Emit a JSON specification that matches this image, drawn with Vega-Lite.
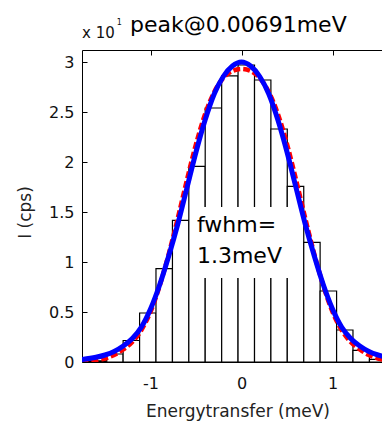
{
  "$schema": "https://vega.github.io/schema/vega-lite/v6.json",
  "autosize": "none",
  "width": 300,
  "height": 312,
  "padding": {"left": 82, "top": 50, "right": 0, "bottom": 62},
  "background": "white",
  "config": {
    "view": {"stroke": null},
    "font": "DejaVu Sans",
    "axis": {
      "grid": false,
      "labelFont": "DejaVu Sans",
      "labelFontSize": 16,
      "labelColor": "#111",
      "titleFont": "DejaVu Sans",
      "titleFontSize": 17,
      "titleFontWeight": "normal",
      "titleColor": "#222",
      "domainColor": "black",
      "domainWidth": 1,
      "tickColor": "black",
      "tickWidth": 1
    }
  },
  "datasets": {
    "bars": [
      {"lo": -1.842, "hi": -1.661, "count": 0.005},
      {"lo": -1.661, "hi": -1.481, "count": 0.012},
      {"lo": -1.481, "hi": -1.301, "count": 0.08},
      {"lo": -1.301, "hi": -1.120, "count": 0.215},
      {"lo": -1.120, "hi": -0.940, "count": 0.49},
      {"lo": -0.940, "hi": -0.759, "count": 0.934},
      {"lo": -0.759, "hi": -0.579, "count": 1.417},
      {"lo": -0.579, "hi": -0.399, "count": 1.957},
      {"lo": -0.399, "hi": -0.218, "count": 2.54},
      {"lo": -0.218, "hi": -0.038, "count": 2.862},
      {"lo": -0.038, "hi": 0.143, "count": 2.97},
      {"lo": 0.143, "hi": 0.323, "count": 2.82},
      {"lo": 0.323, "hi": 0.503, "count": 2.33},
      {"lo": 0.503, "hi": 0.684, "count": 1.757},
      {"lo": 0.684, "hi": 0.864, "count": 1.197},
      {"lo": 0.864, "hi": 1.045, "count": 0.71},
      {"lo": 1.045, "hi": 1.225, "count": 0.32},
      {"lo": 1.225, "hi": 1.406, "count": 0.117},
      {"lo": 1.406, "hi": 1.586, "count": 0.026}
    ],
    "fit": [
      {"e": -1.76, "i": 0.024}, {"e": -1.6, "i": 0.047}, {"e": -1.5, "i": 0.07},
      {"e": -1.4, "i": 0.105}, {"e": -1.3, "i": 0.16}, {"e": -1.2, "i": 0.235},
      {"e": -1.1, "i": 0.35}, {"e": -1.0, "i": 0.53}, {"e": -0.9, "i": 0.77},
      {"e": -0.8, "i": 1.06}, {"e": -0.7, "i": 1.38}, {"e": -0.6, "i": 1.74},
      {"e": -0.5, "i": 2.1}, {"e": -0.4, "i": 2.42}, {"e": -0.3, "i": 2.68},
      {"e": -0.2, "i": 2.855}, {"e": -0.1, "i": 2.96}, {"e": 0.0, "i": 3.0},
      {"e": 0.1, "i": 2.96}, {"e": 0.2, "i": 2.855}, {"e": 0.3, "i": 2.68},
      {"e": 0.4, "i": 2.42}, {"e": 0.5, "i": 2.1}, {"e": 0.6, "i": 1.74},
      {"e": 0.7, "i": 1.38}, {"e": 0.8, "i": 1.06}, {"e": 0.9, "i": 0.77},
      {"e": 1.0, "i": 0.53}, {"e": 1.1, "i": 0.35}, {"e": 1.2, "i": 0.235},
      {"e": 1.3, "i": 0.16}, {"e": 1.4, "i": 0.105}, {"e": 1.5, "i": 0.07},
      {"e": 1.6, "i": 0.047}
    ],
    "model": [
      {"e": -1.76, "i": 0.008}, {"e": -1.6, "i": 0.018}, {"e": -1.5, "i": 0.035},
      {"e": -1.4, "i": 0.07}, {"e": -1.3, "i": 0.125}, {"e": -1.2, "i": 0.2},
      {"e": -1.1, "i": 0.32}, {"e": -1.0, "i": 0.5}, {"e": -0.9, "i": 0.76},
      {"e": -0.8, "i": 1.08}, {"e": -0.7, "i": 1.44}, {"e": -0.6, "i": 1.82},
      {"e": -0.5, "i": 2.18}, {"e": -0.4, "i": 2.48}, {"e": -0.3, "i": 2.7},
      {"e": -0.2, "i": 2.84}, {"e": -0.1, "i": 2.91}, {"e": 0.0, "i": 2.93},
      {"e": 0.1, "i": 2.91}, {"e": 0.2, "i": 2.84}, {"e": 0.3, "i": 2.7},
      {"e": 0.4, "i": 2.48}, {"e": 0.5, "i": 2.18}, {"e": 0.6, "i": 1.82},
      {"e": 0.7, "i": 1.44}, {"e": 0.8, "i": 1.08}, {"e": 0.9, "i": 0.76},
      {"e": 1.0, "i": 0.5}, {"e": 1.1, "i": 0.32}, {"e": 1.2, "i": 0.2},
      {"e": 1.3, "i": 0.125}, {"e": 1.4, "i": 0.07}, {"e": 1.5, "i": 0.035},
      {"e": 1.6, "i": 0.018}
    ]
  },
  "resolve": {"axis": {"x": "independent"}},
  "layer": [
    {
      "data": {"name": "bars"},
      "mark": {"type": "rect", "fill": "white", "stroke": "black", "strokeWidth": 1.2, "clip": true},
      "encoding": {
        "x": {
          "field": "lo", "type": "quantitative",
          "scale": {"domain": [-1.753, 1.544], "nice": false, "zero": false},
          "axis": {
            "orient": "bottom",
            "values": [-1, 0, 1],
            "labelExpr": "'' + datum.value",
            "tickSize": -5,
            "labelPadding": 31,
            "labelBaseline": "alphabetic",
            "title": "Energytransfer (meV)",
            "titleX": 155.5,
            "titleY": 54,
            "titleBaseline": "alphabetic",
            "titleAlign": "center"
          }
        },
        "x2": {"field": "hi"},
        "y": {
          "field": "count", "type": "quantitative",
          "scale": {"domain": [0, 3.12], "nice": false, "zero": true},
          "axis": {
            "values": [0, 0.5, 1, 1.5, 2, 2.5, 3],
            "format": "~g",
            "tickSize": -5,
            "labelPadding": 13,
            "title": "I (cps)",
            "titleX": -57,
            "titleY": 162,
            "titleAngle": -90,
            "titleAlign": "center",
            "titleBaseline": "middle"
          }
        },
        "y2": {"datum": 0}
      }
    },
    {
      "data": {"values": [{}]},
      "mark": {"type": "rect", "fill": "white", "strokeWidth": 0},
      "encoding": {
        "x": {"datum": -0.55, "axis": null},
        "x2": {"datum": 0.6},
        "y": {"datum": 0.84},
        "y2": {"datum": 1.55}
      }
    },
    {
      "data": {"name": "model"},
      "mark": {"type": "line", "color": "#ff0000", "strokeWidth": 4.5, "strokeDash": [7, 3], "interpolate": "monotone", "clip": true},
      "encoding": {
        "x": {"field": "e", "type": "quantitative", "axis": null},
        "y": {"field": "i", "type": "quantitative"}
      }
    },
    {
      "data": {"name": "fit"},
      "mark": {"type": "line", "color": "#0000ff", "strokeWidth": 5, "interpolate": "monotone", "clip": true},
      "encoding": {
        "x": {
          "field": "e", "type": "quantitative",
          "axis": {"orient": "top", "values": [-1, 0, 1], "labels": false, "tickSize": -5, "title": null}
        },
        "y": {"field": "i", "type": "quantitative"}
      }
    },
    {
      "data": {"values": [{}]},
      "mark": {"type": "text", "text": ["fwhm=", "1.3meV"], "font": "DejaVu Sans", "fontSize": 22, "lineHeight": 31, "align": "left", "baseline": "alphabetic", "color": "black"},
      "encoding": {
        "x": {"datum": -0.49, "axis": null},
        "y": {"datum": 1.30}
      }
    },
    {
      "data": {"values": [{}]},
      "mark": {"type": "text", "text": "peak@0.00691meV", "font": "DejaVu Sans", "fontSize": 22, "align": "center", "baseline": "alphabetic", "color": "black"},
      "encoding": {
        "x": {"datum": -0.035, "axis": null},
        "y": {"datum": 3.303}
      }
    },
    {
      "data": {"values": [{}]},
      "mark": {"type": "text", "text": "x 10", "font": "DejaVu Sans", "fontSize": 15, "align": "left", "baseline": "alphabetic", "color": "#111"},
      "encoding": {
        "x": {"datum": -1.753, "axis": null},
        "y": {"datum": 3.237}
      }
    },
    {
      "data": {"values": [{}]},
      "mark": {"type": "text", "text": "1", "font": "DejaVu Sans", "fontSize": 8, "align": "left", "baseline": "alphabetic", "color": "#111"},
      "encoding": {
        "x": {"datum": -1.37, "axis": null},
        "y": {"datum": 3.37}
      }
    }
  ]
}
